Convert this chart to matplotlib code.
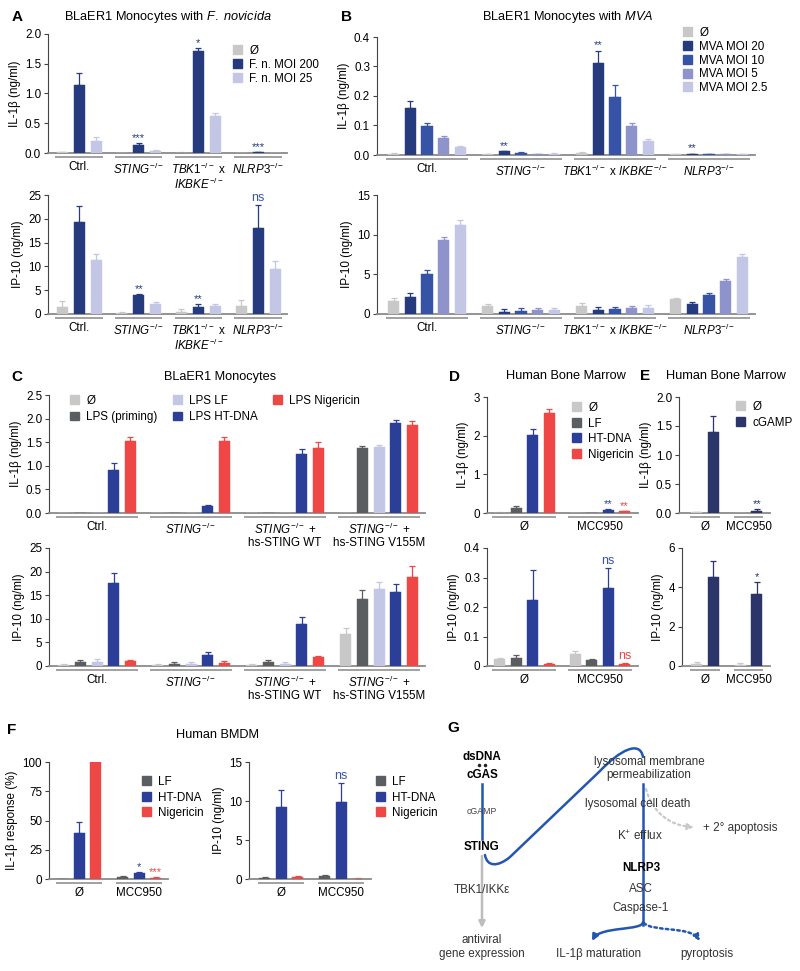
import numpy as np
import matplotlib
matplotlib.use('Agg')
import matplotlib.pyplot as plt
from matplotlib.patches import Patch, FancyArrowPatch
from matplotlib.path import Path
import matplotlib.transforms as mtrans

plt.rcParams['font.family'] = ['Liberation Sans', 'DejaVu Sans']
plt.rcParams['mathtext.fontset'] = 'custom'
plt.rcParams['mathtext.rm'] = 'Liberation Sans'
plt.rcParams['mathtext.it'] = 'Liberation Sans:italic'
plt.rcParams['mathtext.bf'] = 'Liberation Sans:bold'

# ---------------- data ----------------
KO = r'^{-/-}'
A_groups = ['Ctrl.', r'$\mathit{STING}' + KO + '$',
            r'$\mathit{TBK1}' + KO + '$ x\n' + r'$\mathit{IKBKE}' + KO + '$',
            r'$\mathit{NLRP3}' + KO + '$']
A_series = ['Ø', 'F. n. MOI 200', 'F. n. MOI 25']
A_il1b = [[0.01, 0.0, 0.005, 0.0], [1.14, 0.14, 1.72, 0.01], [0.21, 0.04, 0.62, 0.0]]
A_il1b_sem = [[0.005, 0.0, 0.005, 0.0], [0.20, 0.03, 0.04, 0.003], [0.06, 0.01, 0.06, 0.0]]
A_ip10 = [[1.4, 0.3, 0.4, 1.7], [19.3, 3.9, 1.5, 18.1], [11.3, 2.1, 1.7, 9.5]]
A_ip10_sem = [[1.4, 0.2, 0.7, 1.3], [3.3, 0.3, 0.6, 4.8], [1.4, 0.5, 0.3, 1.7]]

B_groups = ['Ctrl.', r'$\mathit{STING}' + KO + '$',
            r'$\mathit{TBK1}' + KO + r'$ x $\mathit{IKBKE}' + KO + '$',
            r'$\mathit{NLRP3}' + KO + '$']
B_series = ['Ø', 'MVA MOI 20', 'MVA MOI 10', 'MVA MOI 5', 'MVA MOI 2.5']
B_il1b = [[0.005, 0.002, 0.007, 0.002], [0.158, 0.012, 0.311, 0.004],
          [0.098, 0.008, 0.198, 0.003], [0.059, 0.004, 0.098, 0.002],
          [0.027, 0.005, 0.047, 0.002]]
B_il1b_sem = [[0.002, 0.001, 0.002, 0.001], [0.025, 0.002, 0.043, 0.001],
              [0.012, 0.001, 0.039, 0.001], [0.006, 0.001, 0.011, 0.0005],
              [0.004, 0.001, 0.006, 0.0005]]
B_ip10 = [[1.7, 1.05, 1.0, 1.85], [2.2, 0.3, 0.55, 1.2], [5.1, 0.4, 0.6, 2.4],
          [9.3, 0.45, 0.7, 4.1], [11.2, 0.55, 0.75, 7.15]]
B_ip10_sem = [[0.3, 0.15, 0.4, 0.2], [0.4, 0.3, 0.35, 0.35], [0.5, 0.3, 0.3, 0.2],
              [0.45, 0.25, 0.25, 0.3], [0.7, 0.2, 0.35, 0.35]]

C_groups = ['Ctrl.', r'$\mathit{STING}' + KO + '$',
            r'$\mathit{STING}' + KO + '$ +\nhs-STING WT',
            r'$\mathit{STING}' + KO + '$ +\nhs-STING V155M']
C_series = ['Ø', 'LPS (priming)', 'LPS LF', 'LPS HT-DNA', 'LPS Nigericin']
C_il1b = [[0, 0, 0, 0], [0, 0, 0.005, 1.37], [0, 0, 0, 1.39],
          [0.91, 0.14, 1.26, 1.91], [1.52, 1.53, 1.37, 1.86]]
C_il1b_sem = [[0, 0, 0, 0], [0, 0, 0, 0.05], [0, 0, 0, 0.05],
              [0.14, 0.02, 0.09, 0.07], [0.08, 0.09, 0.14, 0.09]]
C_ip10 = [[0.2, 0.2, 0.2, 6.8], [0.78, 0.4, 0.8, 14.3], [0.78, 0.5, 0.5, 16.3],
          [17.5, 2.3, 8.9, 15.6], [1.0, 0.6, 1.9, 18.8]]
C_ip10_sem = [[0.2, 0.3, 0.2, 1.2], [0.4, 0.4, 0.4, 1.8], [0.7, 0.4, 0.3, 1.4],
              [2.1, 0.7, 1.5, 1.7], [0.35, 0.5, 0.3, 2.3]]

D_groups = ['Ø', 'MCC950']
D_series = ['Ø', 'LF', 'HT-DNA', 'Nigericin']
D_il1b = [[0.01, 0.0], [0.14, 0.0], [2.01, 0.08], [2.59, 0.04]]
D_il1b_sem = [[0.01, 0.0], [0.03, 0.0], [0.15, 0.02], [0.11, 0.01]]
D_ip10 = [[0.0225, 0.04], [0.026, 0.02], [0.224, 0.263], [0.006, 0.006]]
D_ip10_sem = [[0.004, 0.011], [0.011, 0.005], [0.10, 0.068], [0.005, 0.003]]

E_groups = ['Ø', 'MCC950']
E_series = ['Ø', 'cGAMP']
E_il1b = [[0.01, 0.0], [1.40, 0.04]]
E_il1b_sem = [[0.01, 0.0], [0.28, 0.025]]
E_ip10 = [[0.08, 0.06], [4.51, 3.64]]
E_ip10_sem = [[0.10, 0.09], [0.84, 0.61]]

F_groups = ['Ø', 'MCC950']
F_series = ['LF', 'HT-DNA', 'Nigericin']
F_il1b = [[0.0, 1.4], [39.6, 5.4], [100.0, 0.9]]
F_il1b_sem = [[0.0, 1.4], [8.9, 0.9], [0.0, 0.4]]
F_ip10 = [[0.1, 0.35], [9.27, 9.83], [0.25, 0.05]]
F_ip10_sem = [[0.15, 0.1], [2.2, 2.44], [0.1, 0.03]]

# ---------------- style ----------------
GRAY0 = '#c8c8c8'
NAVY = '#253b7e'
LAV = '#c4c6e6'
MOI10 = '#3753a6'
MOI5 = '#8e93cb'
DGRAY = '#5b5e60'
BLUE = '#2c3f98'
RED = '#ef4646'
CGAMP = '#2b3569'
NSBLUE = '#3a55a8'

W, H = 800, 971
FS = 8.4
fig = plt.figure(figsize=(W / 100, H / 100), dpi=100)


def ftext(x, y, s, **kw):
    kw.setdefault('ha', 'center')
    kw.setdefault('va', 'center')
    fig.text(x / W, 1 - y / H, s, **kw)


def make_axes(x0, x1, ytop, ybase, ymax, yticks, ytl, c0, sp, groups, ylabel,
              nbars, off, width):
    ax = fig.add_axes([x0 / W, 1 - ybase / H, (x1 - x0) / W, (ybase - ytop) / H])
    ax.set_ylim(0, ymax)
    ax.set_xlim((x0 - c0) / sp, (x1 - c0) / sp)
    for s in ['top', 'right']:
        ax.spines[s].set_visible(False)
    ax.spines['left'].set_color('#444444')
    ax.spines['left'].set_linewidth(0.8)
    ax.spines['bottom'].set_color('#8a8a8a')
    ax.spines['bottom'].set_linewidth(1.3)
    ax.set_yticks(yticks)
    ax.set_yticklabels(ytl)
    ax.tick_params(axis='y', direction='out', length=3, width=0.8, labelsize=FS,
                   pad=2, color='#444444')
    ax.set_xticks(np.arange(len(groups)))
    ax.set_xticklabels(groups, fontsize=FS, linespacing=1.05)
    ax.tick_params(axis='x', length=0, pad=6)
    ax.set_ylabel(ylabel, fontsize=FS, labelpad=3)
    tr = mtrans.blended_transform_factory(ax.transData, ax.transAxes)
    half = (nbars - 1) / 2 * off + width / 2 + 0.02
    dy = -4.0 / (ybase - ytop)
    for g in range(len(groups)):
        ax.plot([g - half, g + half], [dy, dy], transform=tr, clip_on=False,
                color='#9a9a9a', lw=1.3, solid_capstyle='butt')
    return ax


def draw_bars(ax, vals, sems, colors, off, width):
    n = len(vals)
    g = np.arange(len(vals[0]))
    for k in range(n):
        x = g + (k - (n - 1) / 2) * off
        v = np.array(vals[k], dtype=float)
        e = np.array(sems[k], dtype=float)
        ax.bar(x, v, width, color=colors[k], edgecolor=colors[k], lw=0.3, zorder=3)
        m = e > 0
        if m.any():
            ax.errorbar(x[m], v[m], yerr=[np.zeros(m.sum()), e[m]], fmt='none',
                        ecolor=colors[k], elinewidth=0.9, capsize=2, capthick=0.9,
                        zorder=2)


def draw_marks(ax, vals, sems, off, marks):
    n = len(vals)
    for k, g, s, c in marks:
        x = g + (k - (n - 1) / 2) * off
        y = vals[k][g] + sems[k][g]
        if s == 'ns':
            ax.annotate(s, (x, y), xytext=(0, 1), textcoords='offset points',
                        ha='center', va='bottom', fontsize=9, color=c)
        else:
            ax.annotate(s, (x, y), xytext=(0, 0), textcoords='offset points',
                        ha='center', va='bottom', fontsize=8, color=c)


def legend(ax, labels, colors, x, y, ncol=1, lsp=0.15, colsp=1.0):
    handles = [Patch(facecolor=c, edgecolor=c) for c in colors]
    ax.legend(handles, labels, loc='upper left', bbox_to_anchor=(x / W, 1 - y / H),
              bbox_transform=fig.transFigure, frameon=False, fontsize=FS,
              handlelength=0.8, handleheight=0.8, handletextpad=0.6,
              labelspacing=lsp, borderpad=0, borderaxespad=0, ncol=ncol,
              columnspacing=colsp)


IL = 'IL-1β (ng/ml)'
IP = 'IP-10 (ng/ml)'

# ---------------- Panel A ----------------
cA = [GRAY0, NAVY, LAV]
offA, wA = 17 / 59.7, 11 / 59.7
ax = make_axes(48, 287, 34, 153, 2.0, [0, 0.5, 1.0, 1.5, 2.0],
               ['0.0', '0.5', '1.0', '1.5', '2.0'], 79, 59.7, A_groups, IL, 3, offA, wA)
draw_bars(ax, A_il1b, A_il1b_sem, cA, offA, wA)
draw_marks(ax, A_il1b, A_il1b_sem, offA, [(1, 1, '***', NAVY), (1, 2, '*', NAVY), (1, 3, '***', NAVY)])
legend(ax, A_series, cA, 233, 45)

ax = make_axes(48, 287, 195, 314, 25, [0, 5, 10, 15, 20, 25],
               ['0', '5', '10', '15', '20', '25'], 79, 59.7, A_groups, IP, 3, offA, wA)
draw_bars(ax, A_ip10, A_ip10_sem, cA, offA, wA)
draw_marks(ax, A_ip10, A_ip10_sem, offA, [(1, 1, '**', NAVY), (1, 2, '**', NAVY), (1, 3, 'ns', NSBLUE)])

ftext(17, 17, 'A', fontsize=11, fontweight='bold')
ftext(168, 17, r'BLaER1 Monocytes with $\mathit{F.\ novicida}$', fontsize=9.2)

# ---------------- Panel B ----------------
cB = [GRAY0, NAVY, MOI10, MOI5, LAV]
offB, wB = 16.7 / 94, 11.5 / 94
ax = make_axes(377, 755, 37, 155, 0.4, [0, 0.1, 0.2, 0.3, 0.4],
               ['0.0', '0.1', '0.2', '0.3', '0.4'], 427, 94, B_groups, IL, 5, offB, wB)
draw_bars(ax, B_il1b, B_il1b_sem, cB, offB, wB)
draw_marks(ax, B_il1b, B_il1b_sem, offB, [(1, 1, '**', NAVY), (1, 2, '**', NAVY), (1, 3, '**', NAVY)])
legend(ax, B_series, cB, 683, 27)

ax = make_axes(377, 755, 195, 314, 15, [0, 5, 10, 15], ['0', '5', '10', '15'],
               427, 94, B_groups, IP, 5, offB, wB)
draw_bars(ax, B_ip10, B_ip10_sem, cB, offB, wB)

ftext(347, 17, 'B', fontsize=11, fontweight='bold')
ftext(568, 17, r'BLaER1 Monocytes with $\mathit{MVA}$', fontsize=9.2)

# ---------------- Panel C ----------------
cC = [GRAY0, DGRAY, LAV, BLUE, RED]
offC, wC = 16.7 / 94, 11 / 94
ax = make_axes(49, 425, 395, 513, 2.5, [0, 0.5, 1.0, 1.5, 2.0, 2.5],
               ['0.0', '0.5', '1.0', '1.5', '2.0', '2.5'], 97, 94, C_groups, IL, 5, offC, wC)
draw_bars(ax, C_il1b, C_il1b_sem, cC, offC, wC)
legend(ax, C_series, cC, 70, 395, ncol=3, lsp=0.35, colsp=1.3)

ax = make_axes(49, 425, 548, 666, 25, [0, 5, 10, 15, 20, 25],
               ['0', '5', '10', '15', '20', '25'], 97, 94, C_groups, IP, 5, offC, wC)
draw_bars(ax, C_ip10, C_ip10_sem, cC, offC, wC)

ftext(17, 377, 'C', fontsize=11, fontweight='bold')
ftext(220, 377, 'BLaER1 Monocytes', fontsize=9.2)

# ---------------- Panel D ----------------
cD = [GRAY0, DGRAY, BLUE, RED]
offD, wD = 16.5 / 75.5, 11 / 75.5
ax = make_axes(487, 638, 397, 513, 3, [0, 1, 2, 3], ['0', '1', '2', '3'],
               524.25, 75.5, D_groups, IL, 4, offD, wD)
draw_bars(ax, D_il1b, D_il1b_sem, cD, offD, wD)
draw_marks(ax, D_il1b, D_il1b_sem, offD, [(2, 1, '**', BLUE), (3, 1, '**', RED)])
legend(ax, D_series, cD, 572, 402, lsp=0.3)

ax = make_axes(487, 638, 548, 666, 0.4, [0, 0.1, 0.2, 0.3, 0.4],
               ['0', '0.1', '0.2', '0.3', '0.4'], 524.25, 75.5, D_groups, IP, 4, offD, wD)
draw_bars(ax, D_ip10, D_ip10_sem, cD, offD, wD)
draw_marks(ax, D_ip10, D_ip10_sem, offD, [(2, 1, 'ns', NSBLUE), (3, 1, 'ns', RED)])

ftext(455, 377, 'D', fontsize=11, fontweight='bold')
ftext(566, 376, 'Human Bone Marrow', fontsize=9.2)

# ---------------- Panel E ----------------
cE = [GRAY0, CGAMP]
offE, wE = 16.5 / 43.5, 11 / 43.5
ax = make_axes(679, 770, 397, 513, 2.0, [0, 0.5, 1.0, 1.5, 2.0],
               ['0.0', '0.5', '1.0', '1.5', '2.0'], 705, 43.5, E_groups, IL, 2, offE, wE)
draw_bars(ax, E_il1b, E_il1b_sem, cE, offE, wE)
draw_marks(ax, E_il1b, E_il1b_sem, offE, [(1, 1, '**', CGAMP)])
legend(ax, E_series, cE, 736, 401, lsp=0.3)

ax = make_axes(682, 770, 548, 666, 6, [0, 2, 4, 6], ['0', '2', '4', '6'],
               705, 43.5, E_groups, IP, 2, offE, wE)
draw_bars(ax, E_ip10, E_ip10_sem, cE, offE, wE)
draw_marks(ax, E_ip10, E_ip10_sem, offE, [(1, 1, '*', CGAMP)])

ftext(645, 376, 'E', fontsize=11, fontweight='bold')
ftext(726, 376, 'Human Bone Marrow', fontsize=9.2)

# ---------------- Panel F ----------------
cF = [DGRAY, BLUE, RED]
offF, wF = 16.5 / 60, 11 / 60
ax = make_axes(49, 168, 762, 879, 100, [0, 25, 50, 75, 100],
               ['0', '25', '50', '75', '100'], 79, 60, F_groups, 'IL-1β response (%)', 3, offF, wF)
draw_bars(ax, F_il1b, F_il1b_sem, cF, offF, wF)
draw_marks(ax, F_il1b, F_il1b_sem, offF, [(1, 1, '*', BLUE), (2, 1, '***', RED)])
legend(ax, F_series, cF, 142, 776, lsp=0.3)

ax = make_axes(249, 371, 762, 879, 15, [0, 5, 10, 15], ['0', '5', '10', '15'],
               281, 60, F_groups, IP, 3, offF, wF)
draw_bars(ax, F_ip10, F_ip10_sem, cF, offF, wF)
draw_marks(ax, F_ip10, F_ip10_sem, offF, [(1, 1, 'ns', NSBLUE)])
legend(ax, F_series, cF, 376, 776, lsp=0.3)

ftext(12, 730, 'F', fontsize=11, fontweight='bold')
ftext(217, 735, 'Human BMDM', fontsize=9.2)

# ---------------- Panel G (schematic) ----------------
dg = fig.add_axes([0, 0, 1, 1], zorder=-1)
dg.set_xlim(0, W)
dg.set_ylim(H, 0)
dg.axis('off')
LB = '#2356b0'
LG = '#bdbdbd'
TC = '#333333'

dg.text(453, 728, 'G', fontsize=11, fontweight='bold', ha='center', va='center')
dg.text(482, 757, 'dsDNA', fontsize=FS, fontweight='bold', ha='center', va='center')
dg.plot([479, 485], [765.5, 765.5], 'o', ms=1.5, color='#222222')
dg.text(482, 775, 'cGAS', fontsize=FS, fontweight='bold', ha='center', va='center')
dg.plot([482, 482], [784, 839], color=LB, lw=1.8)
dg.text(482, 812, 'cGAMP', fontsize=6.3, ha='center', va='center', color='#444444')
dg.text(482, 847, 'STING', fontsize=FS, fontweight='bold', ha='center', va='center')
dg.add_patch(FancyArrowPatch((482, 856), (482, 928), arrowstyle='-|>', mutation_scale=9,
                             color=LG, lw=1.8, shrinkA=0, shrinkB=0))
dg.text(482, 890, 'TBK1/IKKε', fontsize=FS, ha='center', va='center', color=TC)
dg.text(482, 940, 'antiviral', fontsize=FS, ha='center', va='center', color=TC)
dg.text(482, 954, 'gene expression', fontsize=FS, ha='center', va='center', color=TC)

# STING -> lysosome curve
verts = [(485, 855), (487, 867), (498, 867), (510, 857), (600, 771),
         (620, 750), (640, 740), (643, 757)]
codes = [Path.MOVETO, Path.CURVE4, Path.CURVE4, Path.CURVE4, Path.LINETO,
         Path.CURVE4, Path.CURVE4, Path.CURVE4]
dg.add_patch(FancyArrowPatch(path=Path(verts, codes), arrowstyle='-', color=LB, lw=1.8))

dg.text(649, 762, 'lysosomal membrane', fontsize=FS, ha='center', va='center', color=TC)
dg.text(649, 775, 'permeabilization', fontsize=FS, ha='center', va='center', color=TC)
dg.plot([643, 643], [784, 925], color=LB, lw=1.8)
dg.text(638, 804, 'lysosomal cell death', fontsize=FS, ha='center', va='center', color=TC)
dg.text(640, 836, r'K$^{+}$ efflux', fontsize=FS, ha='center', va='center', color=TC)
dg.text(641, 868, 'NLRP3', fontsize=FS, fontweight='bold', ha='center', va='center')
dg.text(641, 889, 'ASC', fontsize=FS, ha='center', va='center', color=TC)
dg.text(641, 908, 'Caspase-1', fontsize=FS, ha='center', va='center', color=TC)

# gray dotted to apoptosis
verts = [(646, 789), (652, 812), (670, 826), (694, 827)]
dg.add_patch(FancyArrowPatch(path=Path(verts, [Path.MOVETO] + [Path.CURVE4] * 3),
                             arrowstyle='-|>', mutation_scale=9, color='#c8c8c8',
                             lw=1.6, linestyle=(0, (1, 1.5))))
dg.text(740, 828, '+ 2° apoptosis', fontsize=FS, ha='center', va='center', color=TC)

# to IL-1b maturation
verts = [(643, 922), (643, 931), (600, 926), (592, 941)]
dg.add_patch(FancyArrowPatch(path=Path(verts, [Path.MOVETO] + [Path.CURVE4] * 3),
                             arrowstyle='-|>', mutation_scale=9, color=LB, lw=1.8))
dg.text(599, 954, 'IL-1β maturation', fontsize=FS, ha='center', va='center', color=TC)

# to pyroptosis (dotted)
verts = [(644, 923), (652, 932), (690, 926), (700, 941)]
dg.add_patch(FancyArrowPatch(path=Path(verts, [Path.MOVETO] + [Path.CURVE4] * 3),
                             arrowstyle='-|>', mutation_scale=9, color=LB, lw=1.8,
                             linestyle=(0, (1, 1.3))))
dg.text(707, 954, 'pyroptosis', fontsize=FS, ha='center', va='center', color=TC)

fig.savefig('out.png', dpi=100)
